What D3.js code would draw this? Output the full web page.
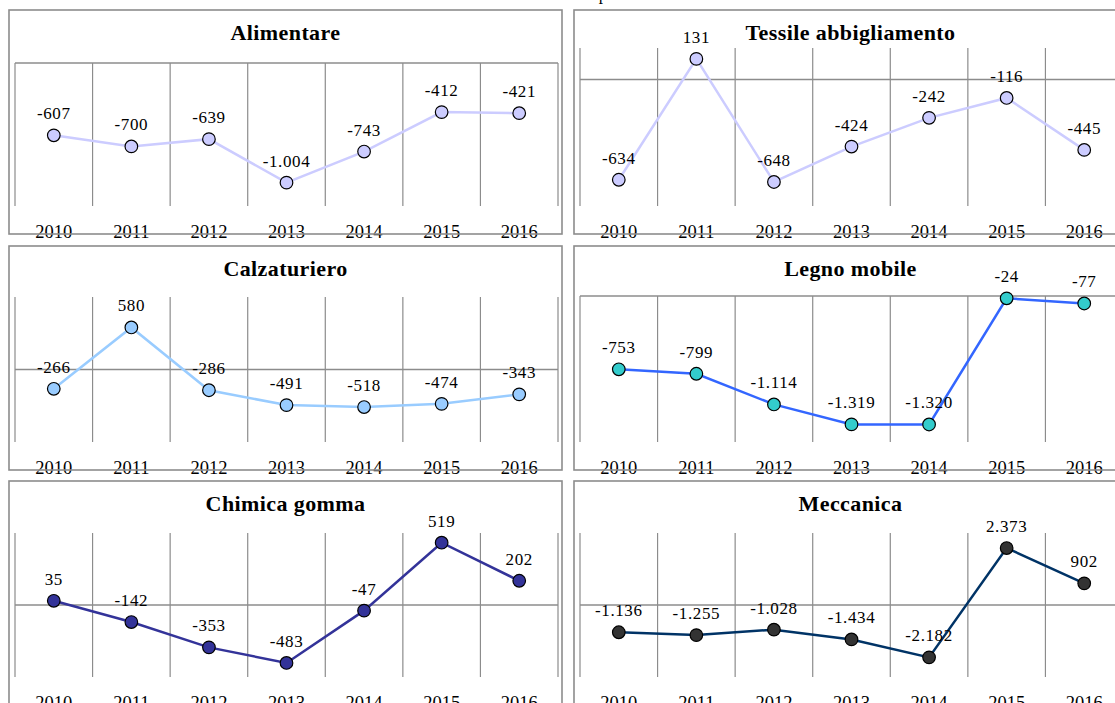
<!DOCTYPE html>
<html>
<head>
<meta charset="utf-8">
<script src="https://cdn.jsdelivr.net/npm/d3@7/dist/d3.min.js"></script>
<style>
  html, body { margin: 0; padding: 0; background: #fff; }
  svg { display: block; }
</style>
</head>
<body>
<svg id="chart" width="1115" height="703"></svg>
<script>
// ---- DATA ----
const years = ["2010", "2011", "2012", "2013", "2014", "2015", "2016"];
const titles = ["Alimentare", "Tessile abbigliamento", "Calzaturiero", "Legno mobile", "Chimica gomma", "Meccanica"];
const alimentare   = [-607, -700, -639, -1004, -743, -412, -421];
const tessile      = [-634, 131, -648, -424, -242, -116, -445];
const calzaturiero = [-266, 580, -286, -491, -518, -474, -343];
const legnoMobile  = [-753, -799, -1114, -1319, -1320, -24, -77];
const chimicaGomma = [35, -142, -353, -483, -47, 519, 202];
const meccanica    = [-1136, -1255, -1028, -1434, -2182, 2373, 902];
const axisMin = [-1200, -800, -1000, -1500, -600, -3000];
const axisMax = [0, 200, 1000, 0, 600, 3000];

// ---- STYLE / LAYOUT ----
const lineColors   = ["#ccccff", "#ccccff", "#99ccff", "#3366ff", "#333399", "#003366"];
const markerColors = ["#ccccff", "#ccccff", "#99ccff", "#33cccc", "#333399", "#333333"];
const colX = [9, 574];
const rowY = [10, 246, 481];
const panelW = 553, panelH = 224;
const plotTopRel = [53, 38, 51, 50, 52, 52];
const plotBottomRel = 196;
const plotLeftRel = 6, plotWidth = 543;

const seriesList = [alimentare, tessile, calzaturiero, legnoMobile, chimicaGomma, meccanica];

const locale = d3.formatLocale({ decimal: ",", thousands: ".", grouping: [3], currency: ["€", ""], minus: "-" });
const fmt = locale.format(",d");

const svg = d3.select("#chart");
svg.append("rect").attr("width", 1115).attr("height", 703).attr("fill", "#fff");

// cut-off text at very top
svg.append("text").attr("x", 603).attr("y", 0).attr("text-anchor", "middle")
  .attr("font-family", "Liberation Serif").attr("font-size", 17).attr("fill", "#000").text("p");

seriesList.forEach((vals, i) => {
  const px = colX[i % 2], py = rowY[Math.floor(i / 2)];
  const g = svg.append("g").attr("transform", `translate(${px},${py})`);

  const x = d3.scaleBand().domain(years).range([plotLeftRel, plotLeftRel + plotWidth]).padding(0);
  const y = d3.scaleLinear().domain([axisMin[i], axisMax[i]]).range([plotBottomRel, plotTopRel[i]]);
  const cx = d => x(d) + x.bandwidth() / 2;

  // vertical gridlines at category boundaries
  const bounds = years.map(d => x(d)).concat([x(years[years.length - 1]) + x.bandwidth()]);
  g.selectAll("line.grid").data(bounds).enter().append("line")
    .attr("x1", d => d).attr("x2", d => d)
    .attr("y1", y(axisMax[i])).attr("y2", y(axisMin[i]))
    .attr("stroke", "#8c8c8c").attr("stroke-width", 1.2);

  // zero line
  g.append("line")
    .attr("x1", plotLeftRel).attr("x2", plotLeftRel + plotWidth)
    .attr("y1", y(0)).attr("y2", y(0))
    .attr("stroke", "#8c8c8c").attr("stroke-width", 1.5);

  const data = years.map((yr, k) => ({ yr, v: vals[k] }));

  g.append("path").datum(data)
    .attr("fill", "none").attr("stroke", lineColors[i]).attr("stroke-width", 2.5)
    .attr("d", d3.line().x(d => cx(d.yr)).y(d => y(d.v)));

  g.selectAll("circle").data(data).enter().append("circle")
    .attr("cx", d => cx(d.yr)).attr("cy", d => y(d.v)).attr("r", 6.3)
    .attr("fill", markerColors[i]).attr("stroke", "#000").attr("stroke-width", 1.2);

  g.selectAll("text.lbl").data(data).enter().append("text")
    .attr("x", d => cx(d.yr)).attr("y", d => y(d.v) - 16)
    .attr("text-anchor", "middle")
    .attr("font-family", "Liberation Serif").attr("font-size", 17).attr("letter-spacing", 0.6)
    .attr("fill", "#000").text(d => fmt(d.v));

  // title
  g.append("text").attr("x", panelW / 2).attr("y", 30).attr("text-anchor", "middle")
    .attr("font-family", "Liberation Serif").attr("font-weight", "bold").attr("font-size", 22)
    .attr("letter-spacing", 0.4).attr("fill", "#000").text(titles[i]);

  // x axis labels
  g.selectAll("text.yr").data(years).enter().append("text")
    .attr("x", d => cx(d)).attr("y", 227.5).attr("text-anchor", "middle")
    .attr("font-family", "Liberation Serif").attr("font-size", 18.5)
    .attr("fill", "#000").text(d => d);

  // panel border
  g.append("rect").attr("x", 0).attr("y", 0).attr("width", panelW).attr("height", panelH)
    .attr("fill", "none").attr("stroke", "#8c8c8c").attr("stroke-width", 1.6);
});
</script>
</body>
</html>
